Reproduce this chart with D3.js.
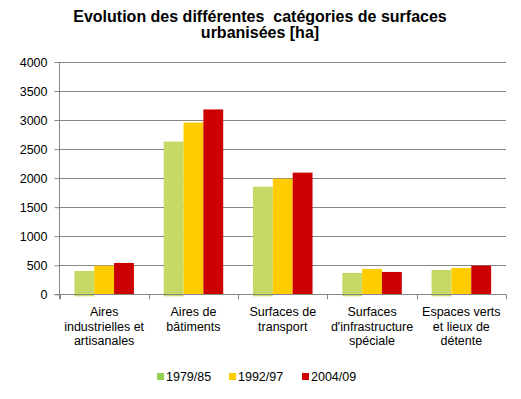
<!DOCTYPE html>
<html>
<head>
<meta charset="utf-8">
<script src="https://cdn.jsdelivr.net/npm/d3@7"></script>
<style>
  body { margin: 0; background: #fff; }
  svg { display: block; font-family: "Liberation Sans", Arial, sans-serif; }
</style>
</head>
<body>
<svg id="chart" width="521" height="399"></svg>
<script>
const categories = [
  ["Aires", "industrielles et", "artisanales"],
  ["Aires de", "bâtiments"],
  ["Surfaces de", "transport"],
  ["Surfaces", "d'infrastructure", "spéciale"],
  ["Espaces verts", "et lieux de", "détente"]
];
const series = ["1979/85", "1992/97", "2004/09"];
const values1979 = [402, 2630, 1853, 368, 420];
const values1992 = [494, 2958, 1991, 437, 454];
const values2004 = [540, 3183, 2095, 385, 494];
const yTicks = [0, 500, 1000, 1500, 2000, 2500, 3000, 3500, 4000];

const barColors = ["#c6d966", "#ffcc00", "#cc0000"];
const legendColors = ["#92d050", "#ffcc00", "#cc0000"];

const margin = { top: 62, right: 15, bottom: 105, left: 59.5 };
const width = 521, height = 399;
const svg = d3.select("#chart");

const x0 = d3.scaleBand()
  .domain(d3.range(categories.length))
  .range([margin.left, width - margin.right]);

// Excel gap width 150% -> bars take 3 of 4.5 slots
const x1 = d3.scaleBand()
  .domain(d3.range(series.length))
  .range([x0.bandwidth() * 0.75 / 4.5, x0.bandwidth() * 3.75 / 4.5]);

const y = d3.scaleLinear()
  .domain([0, 4000])
  .range([height - margin.bottom + 0.3, margin.top]);

const data = categories.map((c, i) => ({
  i: i,
  vals: [values1979[i], values1992[i], values2004[i]]
}));

// gridlines
svg.append("g")
  .selectAll("line")
  .data(yTicks.slice(1))
  .join("line")
  .attr("x1", margin.left)
  .attr("x2", width - margin.right)
  .attr("y1", d => Math.round(y(d)) + 0.5)
  .attr("y2", d => Math.round(y(d)) + 0.5)
  .style("stroke", "#868686")
  .style("stroke-width", 1);

// bars
const groups = svg.append("g")
  .selectAll("g")
  .data(data)
  .join("g")
  .attr("transform", d => `translate(${x0(d.i)},0)`);

groups.selectAll("rect")
  .data(d => d.vals.map((v, s) => ({ v: v, s: s })))
  .join("rect")
  .attr("x", d => x1(d.s))
  .attr("y", d => y(d.v))
  .attr("width", x1.bandwidth())
  // green series shows a small sliver below the axis in the original
  .attr("height", d => y(0) - y(d.v) + (d.s == 0 ? 2 : 0))
  .style("fill", d => barColors[d.s]);

// y axis
const yAxis = svg.append("g")
  .attr("transform", `translate(${margin.left},0)`)
  .call(d3.axisLeft(y).tickValues(yTicks).tickSize(5).tickPadding(7).tickFormat(d3.format("d")));
yAxis.select(".domain").remove();
yAxis.selectAll("line").style("stroke", "#868686");
yAxis.selectAll("text")
  .style("font-size", "12.5px")
  .style("fill", "#000");
yAxis.append("line")
  .attr("x1", 0).attr("x2", 0)
  .attr("y1", y(4000)).attr("y2", y(0) + 5)
  .style("stroke", "#868686");

// x axis
const xAxis = svg.append("g");
xAxis.append("line")
  .attr("x1", margin.left - 5)
  .attr("x2", width - margin.right)
  .attr("y1", Math.round(y(0)) + 0.5)
  .attr("y2", Math.round(y(0)) + 0.5)
  .style("stroke", "#868686");
xAxis.selectAll(".tick")
  .data(d3.range(categories.length + 1))
  .join("line")
  .attr("x1", d => Math.round(margin.left + d * x0.step()) + 0.5)
  .attr("x2", d => Math.round(margin.left + d * x0.step()) + 0.5)
  .attr("y1", y(0))
  .attr("y2", y(0) + 5)
  .style("stroke", "#868686");

const labels = xAxis.selectAll("text")
  .data(categories)
  .join("text")
  .attr("x", (d, i) => x0(i) + x0.bandwidth() / 2)
  .attr("y", y(0) + 22)
  .attr("text-anchor", "middle")
  .style("font-size", "12.5px");
labels.selectAll("tspan")
  .data(d => d)
  .join("tspan")
  .attr("x", function () { return d3.select(this.parentNode).attr("x"); })
  .attr("dy", (d, i) => i == 0 ? 0 : 14.5)
  .text(d => d);

// title
svg.append("text")
  .attr("x", 260)
  .attr("y", 22)
  .attr("text-anchor", "middle")
  .style("font-size", "16px")
  .style("font-weight", "bold")
  .selectAll("tspan")
  .data(["Evolution des différentes  catégories de surfaces", "urbanisées [ha]"])
  .join("tspan")
  .attr("x", 260)
  .attr("dy", (d, i) => i == 0 ? 0 : 16)
  .style("white-space", "pre")
  .text(d => d);

// legend
const legendX = [157, 229, 302];
const legend = svg.append("g")
  .selectAll("g")
  .data(series)
  .join("g")
  .attr("transform", (d, i) => `translate(${legendX[i]},373)`);
legend.append("rect")
  .attr("width", 7)
  .attr("height", 7)
  .style("fill", (d, i) => legendColors[i]);
legend.append("text")
  .attr("x", 9)
  .attr("y", 8)
  .style("font-size", "12.5px")
  .text(d => d);
</script>
</body>
</html>
